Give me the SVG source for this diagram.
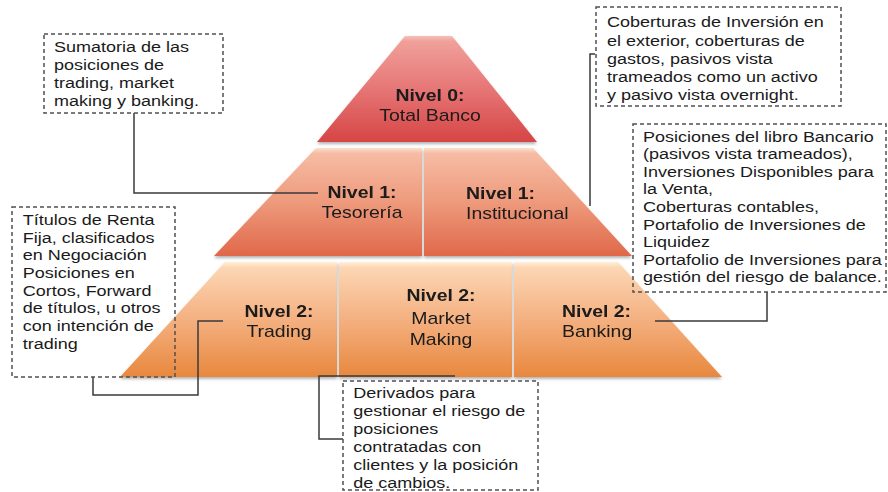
<svg xmlns="http://www.w3.org/2000/svg" width="888" height="492" viewBox="0 0 888 492">
  <defs>
    <linearGradient id="g0" gradientUnits="userSpaceOnUse" x1="0" y1="36" x2="0" y2="142">
      <stop offset="0" stop-color="#f6c0b8"/>
      <stop offset="0.05" stop-color="#f0a09a"/>
      <stop offset="0.5" stop-color="#e67676"/>
      <stop offset="1" stop-color="#d64545"/>
    </linearGradient>
    <linearGradient id="g1" gradientUnits="userSpaceOnUse" x1="0" y1="148" x2="0" y2="256">
      <stop offset="0" stop-color="#fbe0cc"/>
      <stop offset="0.05" stop-color="#f6bca4"/>
      <stop offset="0.5" stop-color="#ee9a7c"/>
      <stop offset="1" stop-color="#e0684a"/>
    </linearGradient>
    <linearGradient id="g2" gradientUnits="userSpaceOnUse" x1="0" y1="262" x2="0" y2="377">
      <stop offset="0" stop-color="#fff0d8"/>
      <stop offset="0.05" stop-color="#fcd6b4"/>
      <stop offset="0.5" stop-color="#f4b080"/>
      <stop offset="1" stop-color="#e8883e"/>
    </linearGradient>
    <filter id="sh" x="-10%" y="-10%" width="120%" height="130%">
      <feDropShadow dx="0" dy="2" stdDeviation="1.8" flood-color="#000" flood-opacity="0.3"/>
    </filter>
  </defs>
  <style>
    .t { font-family: "Liberation Sans", Arial, sans-serif; fill: #1a1a1a; }
    .p { font-size: 16.2px; }
    .b { font-weight: bold; }
    .c { font-size: 15px; }
    .box { fill: none; stroke: #505050; stroke-width: 1.5; stroke-dasharray: 4 3; }
    .con { fill: none; stroke: #3a3a3a; stroke-width: 1.5; }
  </style>

  <g id="nivel0" filter="url(#sh)">
    <polygon points="405,36 452,36 537,142 317,142" fill="url(#g0)"/>
    <text class="t p" text-anchor="middle" transform="translate(430 101) scale(1.2 1)"><tspan class="b" x="0" y="0">Nivel 0:</tspan><tspan x="0" y="20">Total Banco</tspan></text>
  </g>

  <g id="tesoreria" filter="url(#sh)">
    <polygon points="316,148 422,148 422,256 214,256" fill="url(#g1)"/>
    <text class="t p" text-anchor="middle" transform="translate(362 198) scale(1.2 1)"><tspan class="b" x="0" y="0">Nivel 1:</tspan><tspan x="0" y="20">Tesorería</tspan></text>
  </g>

  <g id="institucional" filter="url(#sh)">
    <polygon points="424,148 533,148 632,256 424,256" fill="url(#g1)"/>
    <text class="t p" transform="translate(466 199) scale(1.2 1)"><tspan class="b" x="0" y="0">Nivel 1:</tspan><tspan x="0" y="20">Institucional</tspan></text>
  </g>

  <g id="trading" filter="url(#sh)">
    <polygon points="225,262 337,262 337,377 120,377" fill="url(#g2)"/>
    <text class="t p" text-anchor="middle" transform="translate(279 317) scale(1.2 1)"><tspan class="b" x="0" y="0">Nivel 2:</tspan><tspan x="0" y="20">Trading</tspan></text>
  </g>

  <g id="market-making" filter="url(#sh)">
    <polygon points="339,262 512,262 512,377 339,377" fill="url(#g2)"/>
    <text class="t p" text-anchor="middle" transform="translate(441 301) scale(1.2 1)"><tspan class="b" x="0" y="0">Nivel 2:</tspan><tspan x="0" y="23">Market</tspan><tspan x="0" y="44">Making</tspan></text>
  </g>

  <g id="banking" filter="url(#sh)">
    <polygon points="514,262 618,262 722,377 514,377" fill="url(#g2)"/>
    <text class="t p" transform="translate(562 317) scale(1.2 1)"><tspan class="b" x="0" y="0">Nivel 2:</tspan><tspan x="0" y="20">Banking</tspan></text>
  </g>

  <g id="connectors">
    <polyline class="con" points="134,113 134,193 318,193"/>
    <polyline class="con" points="595,54 590,54 590,206"/>
    <polyline class="con" points="767,292 767,321 655,321"/>
    <polyline class="con" points="93,377 93,395 198,395 198,321 223,321"/>
    <polyline class="con" points="455,376 319,376 319,439 343,439"/>
  </g>

  <g id="nota-total">
    <rect class="box" x="44" y="34" width="179" height="79"/>
    <text class="t c" transform="translate(54 52.3) scale(1.2 1)"><tspan x="0" y="0">Sumatoria de las</tspan><tspan x="0" y="17.9">posiciones de</tspan><tspan x="0" y="35.8">trading, market</tspan><tspan x="0" y="53.7">making y banking.</tspan></text>
  </g>

  <g id="nota-institucional">
    <rect class="box" x="596" y="7" width="245" height="99"/>
    <text class="t c" transform="translate(607 27.3) scale(1.2 1)"><tspan x="0" y="0">Coberturas de Inversión en</tspan><tspan x="0" y="18.3">el exterior, coberturas de</tspan><tspan x="0" y="36.6">gastos, pasivos vista</tspan><tspan x="0" y="54.9">trameados como un activo</tspan><tspan x="0" y="73.2">y pasivo vista overnight.</tspan></text>
  </g>

  <g id="nota-banking">
    <rect class="box" x="633" y="124" width="253" height="168"/>
    <text class="t c" transform="translate(643 141.7) scale(1.2 1)"><tspan x="0" y="0">Posiciones del libro Bancario</tspan><tspan x="0" y="17.6">(pasivos vista trameados),</tspan><tspan x="0" y="35.2">Inversiones Disponibles para</tspan><tspan x="0" y="52.8">la Venta,</tspan><tspan x="0" y="70.4">Coberturas contables,</tspan><tspan x="0" y="88">Portafolio de Inversiones de</tspan><tspan x="0" y="105.6">Liquidez</tspan><tspan x="0" y="123.2">Portafolio de Inversiones para</tspan><tspan x="0" y="140.8">gestión del riesgo de balance.</tspan></text>
  </g>

  <g id="nota-trading">
    <rect class="box" x="12" y="207" width="163" height="170"/>
    <text class="t c" transform="translate(22.7 225) scale(1.2 1)"><tspan x="0" y="0">Títulos de Renta</tspan><tspan x="0" y="17.7">Fija, clasificados</tspan><tspan x="0" y="35.4">en Negociación</tspan><tspan x="0" y="53.1">Posiciones en</tspan><tspan x="0" y="70.8">Cortos, Forward</tspan><tspan x="0" y="88.5">de títulos, u otros</tspan><tspan x="0" y="106.2">con intención de</tspan><tspan x="0" y="123.9">trading</tspan></text>
  </g>

  <g id="nota-market-making">
    <rect class="box" x="343" y="381" width="195" height="109"/>
    <text class="t c" transform="translate(353.3 398.3) scale(1.2 1)"><tspan x="0" y="0">Derivados para</tspan><tspan x="0" y="18">gestionar el riesgo de</tspan><tspan x="0" y="36">posiciones</tspan><tspan x="0" y="54">contratadas con</tspan><tspan x="0" y="72">clientes y la posición</tspan><tspan x="0" y="90">de cambios.</tspan></text>
  </g>
</svg>
